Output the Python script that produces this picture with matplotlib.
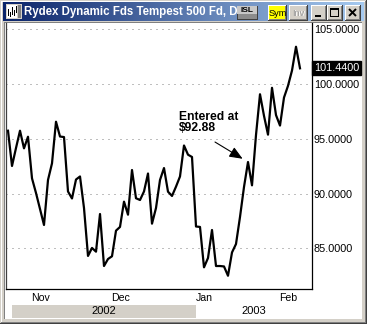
import numpy as np
import matplotlib
matplotlib.use("Agg")
import matplotlib.pyplot as plt
from matplotlib.patches import Rectangle
from matplotlib.transforms import blended_transform_factory, Bbox
from matplotlib.colors import LinearSegmentedColormap

plt.rcParams["font.family"] = ["Liberation Sans", "DejaVu Sans"]

# ---- data -------------------------------------------------------------
title = "Rydex Dynamic Fds Tempest 500 Fd, D"

# daily closes, 22 Oct 2002 .. 6 Feb 2003
prices = [
    95.74, 92.52, 94.16, 95.74, 94.13, 95.19, 91.39, 90.05, 88.59, 87.13,
    91.24, 92.76, 96.56, 95.21, 95.16, 90.19, 89.55, 91.28, 91.56, 88.68,
    84.30, 85.03, 84.69, 88.13, 83.38, 84.02, 84.27, 86.61, 86.95, 89.26,
    88.07, 92.15, 89.57, 89.41, 90.19, 91.83, 87.25, 88.68, 91.24, 92.33,
    90.17, 89.78, 90.63, 91.56, 94.39, 93.55, 93.34, 86.99, 86.95, 83.26,
    84.11, 86.67, 83.38, 83.38, 83.34, 82.49, 84.62, 85.39, 87.86, 90.60,
    92.88, 90.75, 95.35, 99.07, 97.10, 95.38, 99.66, 97.17, 96.21, 98.77,
    99.84, 101.24, 103.41, 101.44,
]

month_labels = ["Nov", "Dec", "Jan", "Feb"]
month_index = [8, 28, 49, 70]          # first trading day of each month
year_labels = ["2002", "2003"]
year_edges = [1, 47, 76]
year_colors = ["#D4D0C8", "#FFFFFF"]
y_ticks = [85, 90, 95, 100, 105]

entry_index = 60
entry_price = 92.88
entry_text = "Entered at\n$92.88"

# ---- figure -----------------------------------------------------------
W, H = 367, 324
fig = plt.figure(figsize=(W / 100, H / 100), dpi=100, facecolor="#D4D0C8")

# window chrome drawn in pixel coordinates
cx = fig.add_axes([0, 0, 1, 1], zorder=0)
cx.set_xlim(0, W)
cx.set_ylim(H, 0)
cx.axis("off")


def rect(x, y, w, h, color, z=1):
    cx.add_patch(Rectangle((x, y), w, h, facecolor=color, edgecolor="none",
                           zorder=z))


def button(x, y, w, h, fc, z=5):
    rect(x, y, w, h, "#404040", z)
    rect(x, y, w - 1, h - 1, "white", z)
    rect(x + 1, y + 1, w - 2, h - 2, "#808080", z)
    rect(x + 1, y + 1, w - 3, h - 3, fc, z)


# outer frame
rect(0, 0, W, H, "#D4D0C8", 0)
rect(1, 1, W - 2, 1, "white", 0.5)
rect(1, 1, 1, H - 2, "white", 0.5)
rect(W - 2, 1, 1, H - 2, "#808080", 0.5)
rect(1, H - 2, W - 2, 1, "#808080", 0.5)
rect(W - 1, 0, 1, H, "#404040", 0.5)
rect(0, H - 1, W, 1, "#404040", 0.5)

# title bar gradient
cmap = LinearSegmentedColormap.from_list("tb", ["#0A246A", "#A6CAF0"])
cx.imshow(np.linspace(0, 1, 256).reshape(1, -1), cmap=cmap, aspect="auto",
          extent=(3, W - 3, 21, 2), zorder=1)

# client area
rect(4, 22, 358, 297, "white", 1)
rect(4, 22, 358, 1, "#808080", 1.2)
rect(4, 22, 1, 297, "#808080", 1.2)

# title icon
rect(6, 4, 16, 15, "#D4D0C8", 2)
rect(7, 5, 10, 13, "white", 2.1)
for bx, b0, b1 in [(8, 9, 16), (10, 12, 17), (12, 7, 15), (14, 10, 16),
                   (16, 6, 13)]:
    rect(bx, b0, 1.2, b1 - b0, "black", 2.2)
rect(18, 5, 3, 13, "#808080", 2.1)

# caption, cut off by the ISL button
cap = cx.text(24, 12, title, color="white", fontweight="bold", fontsize=8.3,
              va="center", ha="left", zorder=3)
cap.set_clip_box(Bbox.from_extents(0, 0, 237, H))
cap.set_clip_on(True)

# ISL button
rect(237, 6, 21, 14, "#404040", 5)
rect(237, 6, 20, 8, "#C8C8C8", 5.1)
rect(238, 14, 19, 5, "#8C8C8C", 5.1)
cx.text(247, 10, "ISL", fontsize=6, fontweight="bold", color="black",
        ha="center", va="center", zorder=6)

# Sym / Inv
button(268, 5, 19, 16, "#FFFF00")
cx.text(277.5, 13, "Sym", fontsize=6.6, color="black", ha="center",
        va="center", zorder=6)
button(289, 5, 19, 16, "#D4D0C8")
cx.text(299, 13.5, "Inv", fontsize=6.6, color="white", ha="center",
        va="center", zorder=6)
cx.text(298.5, 13, "Inv", fontsize=6.6, color="#9A9A9A", ha="center",
        va="center", zorder=6.1)

# minimise / maximise / close
button(311, 5, 16, 16, "#D4D0C8")
rect(315, 15, 6, 2, "black", 6)
button(327, 5, 16, 16, "#D4D0C8")
rect(330, 8, 9, 9, "black", 6)
rect(331, 10, 7, 6, "#D4D0C8", 6.1)
button(345, 5, 16, 16, "#D4D0C8")
cx.plot([349, 356], [9, 16], color="black", lw=1.4, zorder=6,
        solid_capstyle="butt")
cx.plot([349, 356], [16, 9], color="black", lw=1.4, zorder=6,
        solid_capstyle="butt")

# ---- price plot ---------------------------------------------------------
x0, x1, ytop, ybot = 6, 312, 23, 289
ax = fig.add_axes([x0 / W, (H - ybot) / H, (x1 - x0) / W, (ybot - ytop) / H],
                  zorder=2)
ax.set_facecolor("white")
ax.set_xlim(-0.5, 76)
ax.set_ylim(81.28, 105.58)

xs = np.arange(len(prices))
ax.plot(xs, prices, color="black", lw=1.6, solid_joinstyle="round", zorder=3)

for v in y_ticks:
    ax.axhline(v, color="#808080", lw=0.72, linestyle=(0, (1, 5)), zorder=1)

ax.yaxis.tick_right()
ax.set_yticks(y_ticks, [f"{v:.4f}" for v in y_ticks])
ax.tick_params(axis="y", length=0, pad=1.3, labelsize=7.8, colors="black")
ax.set_xticks(month_index, month_labels)
ax.tick_params(axis="x", length=0, pad=2.6, labelsize=7.6, colors="black")

ax.spines["top"].set_visible(False)
ax.spines["left"].set_color("#404040")
for s in ["left", "right", "bottom"]:
    ax.spines[s].set_linewidth(0.9)

# last value tag
tr = blended_transform_factory(ax.transAxes, ax.transData)
ax.text(1.0 + 2.2 / (x1 - x0), prices[-1], f"{prices[-1]:.4f}",
        transform=tr, ha="left", va="center", color="white", fontsize=7.8,
        bbox=dict(boxstyle="square,pad=0.18", fc="black", ec="black"),
        zorder=5, clip_on=False)

# year band
ty = blended_transform_factory(ax.transData, fig.transFigure)
for lab, a, b, c in zip(year_labels, year_edges[:-1], year_edges[1:],
                        year_colors):
    ax.add_patch(Rectangle((a, (H - 318) / H), b - a, 13 / H, transform=ty,
                           facecolor=c, edgecolor="none", clip_on=False))
    ax.text((a + b) / 2, (H - 311.5) / H, lab, transform=ty, ha="center",
            va="center", fontsize=8, clip_on=False)

# entry annotation
ax.annotate("", xy=(entry_index, entry_price), xytext=(-33, 20),
            textcoords="offset pixels",
            arrowprops=dict(arrowstyle="-|>,head_length=0.8,head_width=0.33",
                            color="black", lw=0.8, shrinkA=0, shrinkB=4.5,
                            mutation_scale=10), zorder=4)
ax.annotate(entry_text, xy=(entry_index, entry_price), xytext=(-69, 51.5),
            textcoords="offset pixels", ha="left", va="top",
            fontsize=8.7, fontweight="bold", linespacing=0.95, zorder=4)

fig.savefig("out.png", dpi=100, facecolor=fig.get_facecolor())
